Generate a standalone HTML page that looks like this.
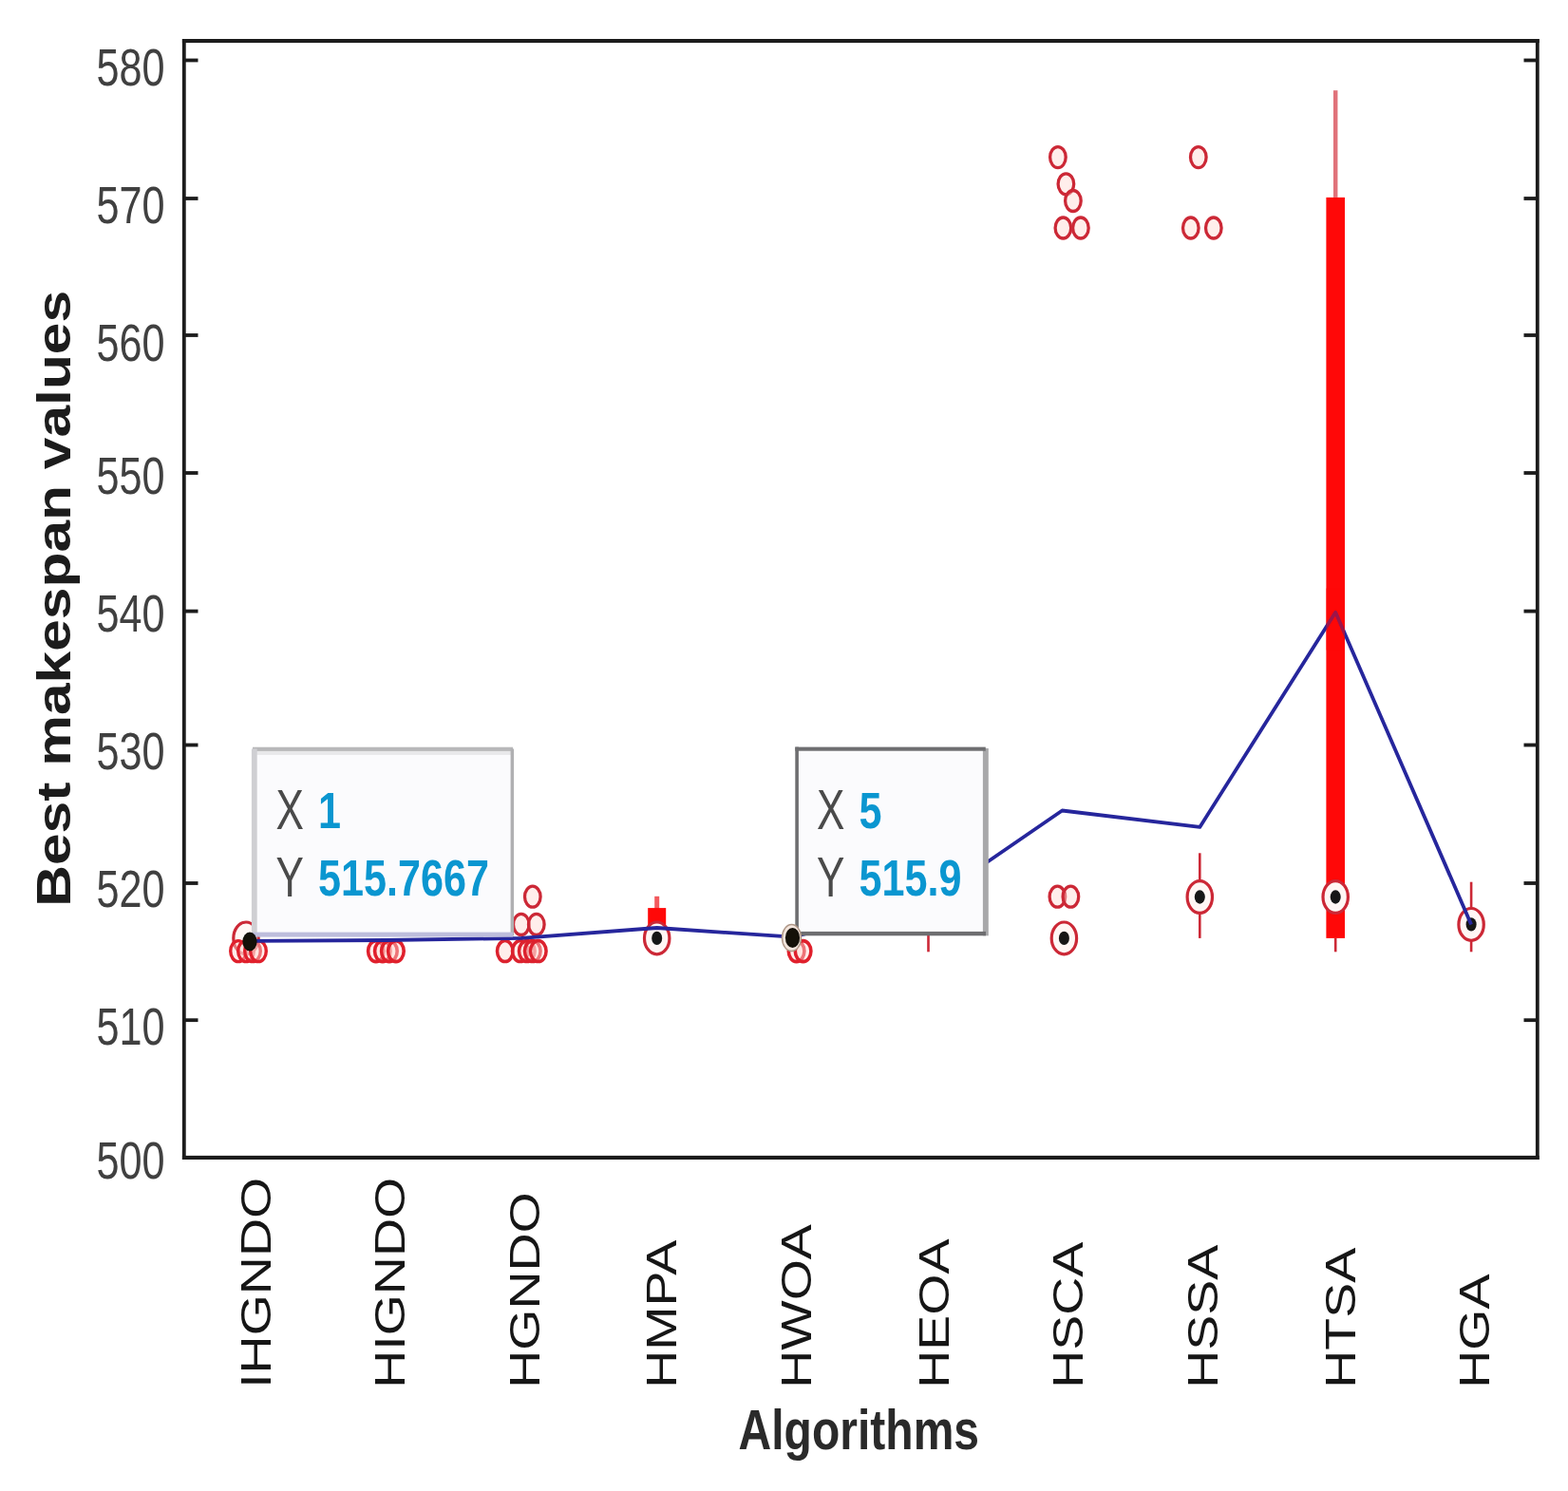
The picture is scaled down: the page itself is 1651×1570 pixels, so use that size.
<!DOCTYPE html>
<html lang="en"><head><meta charset="utf-8"><title>Best makespan values by algorithm</title>
<style>html,body{margin:0;padding:0;background:#fff}svg{display:block;filter:blur(0.5px)}</style></head>
<body>
<svg width="1651" height="1570" viewBox="0 0 1651 1570" font-family="'Liberation Sans', sans-serif" role="img" aria-label="Box plot of best makespan values per algorithm">
<rect x="0" y="0" width="1651" height="1570" fill="#ffffff"/>
<g id="boxplot" fill="none">
<ellipse cx="259.0" cy="987.9" rx="13.2" ry="16.9" stroke="#cc2836" stroke-width="3.2" fill="#fff6f4"/>
<ellipse cx="251.0" cy="1001.6" rx="8.3" ry="11.0" stroke="#e0202c" stroke-width="3.4" fill="#ffd9d2" fill-opacity="0.45"/>
<ellipse cx="259.0" cy="1001.6" rx="8.3" ry="11.0" stroke="#e0202c" stroke-width="3.4" fill="#ffd9d2" fill-opacity="0.45"/>
<ellipse cx="266.0" cy="1001.6" rx="8.3" ry="11.0" stroke="#e0202c" stroke-width="3.4" fill="#ffd9d2" fill-opacity="0.45"/>
<ellipse cx="272.0" cy="1001.6" rx="8.3" ry="11.0" stroke="#e0202c" stroke-width="3.4" fill="#ffd9d2" fill-opacity="0.45"/>
<ellipse cx="395.9" cy="1001.6" rx="8.3" ry="11.0" stroke="#e0202c" stroke-width="3.6" fill="#ffd9d2" fill-opacity="0.45"/>
<ellipse cx="402.9" cy="1001.6" rx="8.3" ry="11.0" stroke="#e0202c" stroke-width="3.6" fill="#ffd9d2" fill-opacity="0.45"/>
<ellipse cx="409.9" cy="1001.6" rx="8.3" ry="11.0" stroke="#e0202c" stroke-width="3.6" fill="#ffd9d2" fill-opacity="0.45"/>
<ellipse cx="416.9" cy="1001.6" rx="8.3" ry="11.0" stroke="#e0202c" stroke-width="3.6" fill="#ffd9d2" fill-opacity="0.45"/>
<ellipse cx="531.8" cy="1001.6" rx="8.3" ry="11.0" stroke="#dc222e" stroke-width="3.5" fill="#ffd9d2" fill-opacity="0.45"/>
<ellipse cx="547.8" cy="1001.6" rx="8.3" ry="11.0" stroke="#dc222e" stroke-width="3.5" fill="#ffd9d2" fill-opacity="0.45"/>
<ellipse cx="554.8" cy="1001.6" rx="8.3" ry="11.0" stroke="#dc222e" stroke-width="3.5" fill="#ffd9d2" fill-opacity="0.45"/>
<ellipse cx="560.8" cy="1001.6" rx="8.3" ry="11.0" stroke="#dc222e" stroke-width="3.5" fill="#ffd9d2" fill-opacity="0.45"/>
<ellipse cx="566.8" cy="1001.6" rx="8.3" ry="11.0" stroke="#dc222e" stroke-width="3.5" fill="#ffd9d2" fill-opacity="0.45"/>
<ellipse cx="548.8" cy="973.4" rx="8.3" ry="11.0" stroke="#cc2836" stroke-width="3.3" fill="#ffd9d2" fill-opacity="0.45"/>
<ellipse cx="564.8" cy="973.4" rx="8.3" ry="11.0" stroke="#cc2836" stroke-width="3.3" fill="#ffd9d2" fill-opacity="0.45"/>
<ellipse cx="560.8" cy="944.2" rx="8.3" ry="11.0" stroke="#cc2836" stroke-width="3.3" fill="#ffd9d2" fill-opacity="0.45"/>
<line x1="691.7" x2="691.7" y1="959.0" y2="943.8" stroke="#f25a5e" stroke-width="5"/>
<rect x="682.2" y="956.1" width="19" height="23.1" fill="#ff0808"/>
<ellipse cx="691.7" cy="987.9" rx="13.2" ry="16.9" stroke="#cc2836" stroke-width="3.2" fill="#fff6f4"/>
<ellipse cx="691.7" cy="987.9" rx="5.5" ry="7.2" fill="#161616"/>
<ellipse cx="838.6" cy="1001.6" rx="8.3" ry="11.0" stroke="#e0202c" stroke-width="3.6" fill="#ffd9d2" fill-opacity="0.45"/>
<ellipse cx="845.6" cy="1001.6" rx="8.3" ry="11.0" stroke="#e0202c" stroke-width="3.6" fill="#ffd9d2" fill-opacity="0.45"/>
<line x1="977.5" x2="977.5" y1="1002.3" y2="980.7" stroke="#cc2836" stroke-width="2.6"/>
<ellipse cx="1113.9" cy="165.6" rx="8.3" ry="11.0" stroke="#cc2836" stroke-width="3.3" fill="#ffd9d2" fill-opacity="0.45"/>
<ellipse cx="1122.4" cy="193.8" rx="8.3" ry="11.0" stroke="#cc2836" stroke-width="3.3" fill="#ffd9d2" fill-opacity="0.45"/>
<ellipse cx="1129.9" cy="211.5" rx="8.3" ry="11.0" stroke="#cc2836" stroke-width="3.3" fill="#ffd9d2" fill-opacity="0.45"/>
<ellipse cx="1119.4" cy="240.0" rx="8.3" ry="11.0" stroke="#cc2836" stroke-width="3.3" fill="#ffd9d2" fill-opacity="0.45"/>
<ellipse cx="1137.9" cy="240.0" rx="8.3" ry="11.0" stroke="#cc2836" stroke-width="3.3" fill="#ffd9d2" fill-opacity="0.45"/>
<ellipse cx="1113.4" cy="944.2" rx="8.3" ry="11.0" stroke="#cc2836" stroke-width="3.3" fill="#ffd9d2" fill-opacity="0.45"/>
<ellipse cx="1127.4" cy="944.2" rx="8.3" ry="11.0" stroke="#cc2836" stroke-width="3.3" fill="#ffd9d2" fill-opacity="0.45"/>
<ellipse cx="1120.4" cy="987.9" rx="13.2" ry="16.9" stroke="#cc2836" stroke-width="3.2" fill="#fff6f4"/>
<ellipse cx="1120.4" cy="987.9" rx="5.5" ry="7.2" fill="#161616"/>
<ellipse cx="1261.8" cy="165.6" rx="8.3" ry="11.0" stroke="#cc2836" stroke-width="3.3" fill="#ffd9d2" fill-opacity="0.45"/>
<ellipse cx="1253.8" cy="240.0" rx="8.3" ry="11.0" stroke="#cc2836" stroke-width="3.3" fill="#ffd9d2" fill-opacity="0.45"/>
<ellipse cx="1277.8" cy="240.0" rx="8.3" ry="11.0" stroke="#cc2836" stroke-width="3.3" fill="#ffd9d2" fill-opacity="0.45"/>
<line x1="1263.3" x2="1263.3" y1="987.9" y2="898.3" stroke="#cc2836" stroke-width="2.6"/>
<ellipse cx="1263.3" cy="944.5" rx="13.2" ry="16.9" stroke="#cc2836" stroke-width="3.2" fill="#fff6f4"/>
<ellipse cx="1263.3" cy="944.5" rx="5.5" ry="7.2" fill="#161616"/>
<line x1="1406.2" x2="1406.2" y1="207.9" y2="95.2" stroke="#e0727a" stroke-width="4.5"/>
<line x1="1406.2" x2="1406.2" y1="1002.3" y2="987.9" stroke="#cc2836" stroke-width="2.6"/>
<rect x="1396.4" y="207.9" width="19.6" height="780.0" fill="#ff0808"/>
<ellipse cx="1406.2" cy="944.5" rx="13.2" ry="16.9" stroke="#cc2836" stroke-width="3.2" fill="#fff6f4"/>
<ellipse cx="1406.2" cy="944.5" rx="5.5" ry="7.2" fill="#161616"/>
<line x1="1549.1" x2="1549.1" y1="1002.3" y2="928.7" stroke="#cc2836" stroke-width="2.6"/>
<ellipse cx="1549.1" cy="973.4" rx="13.2" ry="16.9" stroke="#cc2836" stroke-width="3.2" fill="#fff6f4"/>
<ellipse cx="1549.1" cy="973.4" rx="5.5" ry="7.2" fill="#161616"/>
</g>
<polyline id="mean-line" points="263.0,990.8 405.9,990.0 548.8,987.9 691.7,977.0 834.6,986.7 977.5,950.3 1118.4,853.5 1263.3,870.9 1406.2,644.8 1549.1,973.4" fill="none" stroke="#26269c" stroke-width="3.8" stroke-linejoin="round"/>
<rect x="1396.4" y="619.5" width="19.6" height="65.0" fill="#ff0808" fill-opacity="0.55"/>
<g class="datatip">
<rect x="266" y="788" width="274.0" height="197.0" fill="#fbfbfd"/>
<rect x="266" y="790.9" width="274.0" height="4.0" fill="#e8e8ea"/>
<rect x="266" y="786.7" width="274.0" height="4.2" fill="#b8b8ba"/>
<rect x="264.9" y="788.5" width="5.8" height="197.0" fill="#cfcfd3"/>
<rect x="537.6" y="788.5" width="3.5" height="197.0" fill="#b0b0b2"/>
<rect x="266" y="981.6" width="274.0" height="5.0" fill="#bdbddc"/>
<text transform="translate(290.6,872.6) scale(0.753,1)" font-size="58.5" fill="#4a4a4a">X</text>
<text transform="translate(335,872.0) scale(0.807,1)" font-size="53.5" font-weight="bold" fill="#0a96d0">1</text>
<text transform="translate(290.6,943.6) scale(0.753,1)" font-size="58.5" fill="#4a4a4a">Y</text>
<text transform="translate(335,943.0) scale(0.807,1)" font-size="53.5" font-weight="bold" fill="#0a96d0">515.7667</text>
</g>
<g class="datatip">
<rect x="838" y="787" width="202.0" height="198.0" fill="#fbfbfd"/>
<rect x="1034.9" y="788" width="5.9" height="197.3" fill="#a8a8aa"/>
<rect x="837.3" y="786.6" width="200.5" height="4.1" fill="#6e6e70"/>
<rect x="837.3" y="786.6" width="3.6" height="198.7" fill="#6e6e70"/>
<rect x="837.3" y="980.9" width="200.7" height="4.4" fill="#6e6e70"/>
<text transform="translate(860,872.6) scale(0.753,1)" font-size="58.5" fill="#4a4a4a">X</text>
<text transform="translate(904.5,872.0) scale(0.807,1)" font-size="53.5" font-weight="bold" fill="#0a96d0">5</text>
<text transform="translate(860,943.6) scale(0.753,1)" font-size="58.5" fill="#4a4a4a">Y</text>
<text transform="translate(904.5,943.0) scale(0.807,1)" font-size="53.5" font-weight="bold" fill="#0a96d0">515.9</text>
</g>
<ellipse cx="263" cy="991.5" rx="7.6" ry="10" fill="#141008"/>
<ellipse cx="833.5" cy="987.5" rx="10" ry="14" fill="#f4e6de" stroke="#b09888" stroke-width="1.5"/>
<ellipse cx="834.5" cy="987.5" rx="7.6" ry="10.5" fill="#141008"/>
<rect x="191.9" y="41" width="3.8" height="1180" fill="#1c1c1c"/>
<rect x="1616.9" y="41" width="3.8" height="1180" fill="#1c1c1c"/>
<rect x="191.9" y="41" width="1428.8" height="4.1" fill="#1c1c1c"/>
<rect x="191.9" y="1216.9" width="1428.8" height="4.1" fill="#1c1c1c"/>
<line x1="194" x2="208.5" y1="63.5" y2="63.5" stroke="#1c1c1c" stroke-width="3.8"/>
<line x1="1619" x2="1604.5" y1="63.5" y2="63.5" stroke="#1c1c1c" stroke-width="3.8"/>
<line x1="194" x2="208.5" y1="209.0" y2="209.0" stroke="#1c1c1c" stroke-width="3.8"/>
<line x1="1619" x2="1604.5" y1="209.0" y2="209.0" stroke="#1c1c1c" stroke-width="3.8"/>
<line x1="194" x2="208.5" y1="353.0" y2="353.0" stroke="#1c1c1c" stroke-width="3.8"/>
<line x1="1619" x2="1604.5" y1="353.0" y2="353.0" stroke="#1c1c1c" stroke-width="3.8"/>
<line x1="194" x2="208.5" y1="498.0" y2="498.0" stroke="#1c1c1c" stroke-width="3.8"/>
<line x1="1619" x2="1604.5" y1="498.0" y2="498.0" stroke="#1c1c1c" stroke-width="3.8"/>
<line x1="194" x2="208.5" y1="643.6" y2="643.6" stroke="#1c1c1c" stroke-width="3.8"/>
<line x1="1619" x2="1604.5" y1="643.6" y2="643.6" stroke="#1c1c1c" stroke-width="3.8"/>
<line x1="194" x2="208.5" y1="784.5" y2="784.5" stroke="#1c1c1c" stroke-width="3.8"/>
<line x1="1619" x2="1604.5" y1="784.5" y2="784.5" stroke="#1c1c1c" stroke-width="3.8"/>
<line x1="194" x2="208.5" y1="930.0" y2="930.0" stroke="#1c1c1c" stroke-width="3.8"/>
<line x1="1619" x2="1604.5" y1="930.0" y2="930.0" stroke="#1c1c1c" stroke-width="3.8"/>
<line x1="194" x2="208.5" y1="1074.2" y2="1074.2" stroke="#1c1c1c" stroke-width="3.8"/>
<line x1="1619" x2="1604.5" y1="1074.2" y2="1074.2" stroke="#1c1c1c" stroke-width="3.8"/>
<text transform="translate(173.6,90.2) scale(0.785,1)" font-size="55" text-anchor="end" fill="#404040">580</text>
<text transform="translate(173.6,234.8) scale(0.785,1)" font-size="55" text-anchor="end" fill="#404040">570</text>
<text transform="translate(173.6,380.4) scale(0.785,1)" font-size="55" text-anchor="end" fill="#404040">560</text>
<text transform="translate(173.6,519.9) scale(0.785,1)" font-size="55" text-anchor="end" fill="#404040">550</text>
<text transform="translate(173.6,665.0) scale(0.785,1)" font-size="55" text-anchor="end" fill="#404040">540</text>
<text transform="translate(173.6,810.1) scale(0.785,1)" font-size="55" text-anchor="end" fill="#404040">530</text>
<text transform="translate(173.6,955.2) scale(0.785,1)" font-size="55" text-anchor="end" fill="#404040">520</text>
<text transform="translate(173.6,1099.6) scale(0.785,1)" font-size="55" text-anchor="end" fill="#404040">510</text>
<text transform="translate(173.6,1240.7) scale(0.785,1)" font-size="55" text-anchor="end" fill="#404040">500</text>
<text transform="translate(284.6,1461.8) scale(0.785,1) rotate(-90)" font-size="55.5" fill="#161616">IHGNDO</text>
<text transform="translate(426.1,1461.8) scale(0.785,1) rotate(-90)" font-size="55.5" fill="#161616">HIGNDO</text>
<text transform="translate(567.7,1461.8) scale(0.785,1) rotate(-90)" font-size="55.5" fill="#161616">HGNDO</text>
<text transform="translate(712.4,1461.8) scale(0.785,1) rotate(-90)" font-size="55.5" fill="#161616">HMPA</text>
<text transform="translate(854.1,1461.8) scale(0.785,1) rotate(-90)" font-size="55.5" fill="#161616">HWOA</text>
<text transform="translate(998.6,1461.8) scale(0.785,1) rotate(-90)" font-size="55.5" fill="#161616">HEOA</text>
<text transform="translate(1140.0,1461.8) scale(0.785,1) rotate(-90)" font-size="55.5" fill="#161616">HSCA</text>
<text transform="translate(1281.5,1461.8) scale(0.785,1) rotate(-90)" font-size="55.5" fill="#161616">HSSA</text>
<text transform="translate(1426.6,1461.8) scale(0.785,1) rotate(-90)" font-size="55.5" fill="#161616">HTSA</text>
<text transform="translate(1568.4,1461.8) scale(0.785,1) rotate(-90)" font-size="55.5" fill="#161616">HGA</text>
<text transform="translate(904.3,1526.3) scale(0.82,1)" font-size="58.6" font-weight="bold" text-anchor="middle" fill="#2a2a2a">Algorithms</text>
<text transform="translate(73.7,630.3) scale(0.833,1) rotate(-90)" font-size="60.5" font-weight="bold" text-anchor="middle" fill="#1c1c1c">Best makespan values</text>
</svg>
</body></html>
